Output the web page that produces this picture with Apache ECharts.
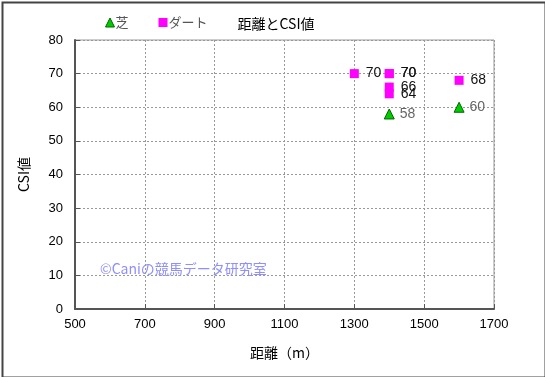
<!DOCTYPE html>
<html>
<head>
<meta charset="utf-8">
<script src="https://cdn.jsdelivr.net/npm/echarts@6/dist/echarts.min.js"></script>
<style>
  html, body { margin: 0; padding: 0; background: #fff; }
  #chart { width: 545px; height: 377px; }
</style>
</head>
<body>
<div id="chart"></div>
<script>
const xTicks = [500, 700, 900, 1100, 1300, 1500, 1700]
const yTicks = [0, 10, 20, 30, 40, 50, 60, 70, 80]

// 芝
const turfDist = [1400, 1600]
const turfCsi = [58, 60]
// ダート
const dirtDist = [1300, 1400, 1400, 1400, 1400, 1600]
const dirtCsi = [70, 70, 70, 66, 64, 68]

const font = '"Noto Sans CJK JP", sans-serif'
const numFont = '"Liberation Sans", Arial, sans-serif'

const chart = echarts.init(document.getElementById('chart'))

chart.setOption({
  animation: false,
  textStyle: { fontFamily: font },
  title: {
    text: '距離とCSI値',
    left: 271,
    top: 12,
    textAlign: 'center',
    textStyle: { fontSize: 14, fontWeight: 'normal', color: '#000', fontFamily: font },
  },
  legend: {
    left: 100,
    top: 11,
    itemGap: 30,
    itemWidth: 9,
    itemHeight: 9,
    textStyle: { fontSize: 13, color: '#555', fontFamily: font, padding: [0, 0, 0, -4] },
    data: [
      { name: '芝', icon: 'triangle', itemStyle: { color: '#00cc00', borderColor: '#006600', borderWidth: 1 } },
      { name: 'ダート', icon: 'rect', itemStyle: { color: '#ff00ff' } },
    ],
  },
  grid: { left: 75, right: 51, top: 40, bottom: 68, show: true, borderColor: '#999', borderWidth: 1 },
  xAxis: {
    type: 'value',
    min: xTicks[0],
    max: xTicks[xTicks.length - 1],
    interval: 200,
    name: '距離（m）',
    nameLocation: 'middle',
    nameGap: 37,
    nameTextStyle: { fontSize: 14, color: '#000', fontFamily: font },
    axisLine: { show: true, lineStyle: { color: '#555', width: 2 } },
    axisTick: { show: true, inside: true, length: 5, lineStyle: { color: '#555' } },
    axisLabel: { fontSize: 13, color: '#000', margin: 9, fontFamily: numFont, formatter: (v) => String(v) },
    splitLine: { show: true, lineStyle: { color: '#999', type: [2, 2], width: 1 } },
  },
  yAxis: {
    type: 'value',
    min: yTicks[0],
    max: yTicks[yTicks.length - 1],
    interval: 10,
    name: 'CSI値',
    nameLocation: 'middle',
    nameGap: 44,
    nameTextStyle: { fontSize: 14, color: '#000', fontFamily: font },
    axisLine: { show: true, lineStyle: { color: '#555', width: 2 } },
    axisTick: { show: true, inside: true, length: 5, lineStyle: { color: '#555' } },
    axisLabel: { fontSize: 13, color: '#000', margin: 12, fontFamily: numFont },
    splitLine: { show: true, lineStyle: { color: '#999', type: [2, 2], width: 1 } },
  },
  series: [
    {
      name: '芝',
      type: 'scatter',
      symbol: 'triangle',
      symbolSize: 10,
      itemStyle: { color: '#00cc00', borderColor: '#006600', borderWidth: 1, opacity: 1 },
      label: { show: true, position: 'right', distance: 5, fontSize: 14, color: '#666', fontFamily: numFont, formatter: (p) => p.value[1] },
      data: turfDist.map((d, i) => [d, turfCsi[i]]),
    },
    {
      name: 'ダート',
      type: 'scatter',
      symbol: 'rect',
      symbolSize: 9,
      itemStyle: { color: '#ff00ff', opacity: 1 },
      label: { show: true, position: 'right', distance: 7, fontSize: 14, color: '#111', fontFamily: numFont, formatter: (p) => p.value[1] },
      data: dirtDist.map((d, i) => [d, dirtCsi[i]]),
    },
  ],
  graphic: [
    {
      type: 'rect',
      left: 0,
      top: 0,
      shape: { width: 543, height: 375 },
      style: { fill: 'none', stroke: '#444', lineWidth: 2 },
      silent: true,
    },
    {
      type: 'text',
      left: 100,
      top: 262,
      style: { text: '©Caniの競馬データ研究室', fill: '#8f8fff', font: '14px "Noto Sans CJK JP", sans-serif' },
      silent: true,
    },
  ],
})
</script>
</body>
</html>
